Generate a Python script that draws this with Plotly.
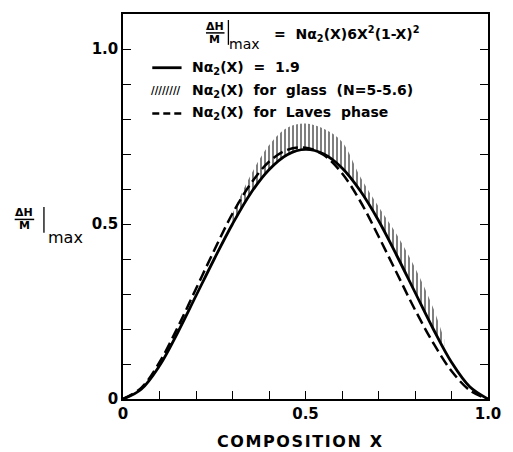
import plotly.graph_objects as go

# ---- data ----
x_vals = [0.00, 0.05, 0.10, 0.15, 0.20, 0.25, 0.30, 0.35, 0.40, 0.45, 0.50,
          0.55, 0.60, 0.65, 0.70, 0.75, 0.80, 0.85, 0.90, 0.95, 1.00]
solid_19 = [0.0, 0.028, 0.095, 0.19, 0.295, 0.40, 0.50, 0.588, 0.655, 0.698, 0.713,
            0.700, 0.660, 0.595, 0.51, 0.41, 0.305, 0.20, 0.105, 0.035, 0.0]
laves = [0.0, 0.032, 0.105, 0.205, 0.315, 0.425, 0.53, 0.615, 0.678, 0.712, 0.718,
         0.697, 0.645, 0.565, 0.465, 0.36, 0.255, 0.16, 0.08, 0.025, 0.0]

glass_x = [0.30, 0.35, 0.40, 0.45, 0.50, 0.55, 0.60, 0.65, 0.70, 0.75, 0.80, 0.85, 0.88]
glass_lower = [0.50, 0.588, 0.655, 0.698, 0.713, 0.700, 0.660, 0.595, 0.51, 0.41, 0.305, 0.20, 0.15]
glass_upper = [0.53, 0.64, 0.725, 0.775, 0.787, 0.772, 0.735, 0.635, 0.55, 0.47, 0.375, 0.26, 0.17]

tick_vals = [0.0, 0.5, 1.0]
tick_text = ["0", "0.5", "1.0"]
minor_step = 0.1

FONT = "DejaVu Sans"
W, H = 513, 452
L, R, T, B = 123, 16, 12, 53
PW, PH = W - L - R, H - T - B


def px(x):
    return (x - L) / PW


def py(y):
    return (H - B - y) / PH


fig = go.Figure()

# glass band (hatched)
fig.add_trace(go.Scatter(x=glass_x, y=glass_lower, mode="lines", line=dict(width=0, shape="spline"),
                         showlegend=False, hoverinfo="skip"))
fig.add_trace(go.Scatter(x=glass_x, y=glass_upper, mode="lines", line=dict(width=0, shape="spline"),
                         fill="tonexty", fillcolor="rgba(0,0,0,0)",
                         fillpattern=dict(shape="|", size=4, solidity=0.5, fgcolor="black",
                                          bgcolor="rgba(0,0,0,0)", fillmode="overlay"),
                         showlegend=False, hoverinfo="skip"))
# Laves phase (dashed)
fig.add_trace(go.Scatter(x=x_vals, y=laves, mode="lines",
                         line=dict(color="black", width=2.5, dash="11px,5px", shape="spline"),
                         showlegend=False))
# N alpha = 1.9 (solid)
fig.add_trace(go.Scatter(x=x_vals, y=solid_19, mode="lines",
                         line=dict(color="black", width=2.8, shape="spline"),
                         showlegend=False))

ann = []


def text(t, x, y, size, bold=True, xanchor="center", yanchor="middle"):
    ann.append(dict(text=t, x=px(x), y=py(y), xref="paper", yref="paper", showarrow=False,
                    xanchor=xanchor, yanchor=yanchor,
                    font=dict(family=FONT, size=size, color="black",
                              weight="bold" if bold else "normal")))


shapes = []


def seg(x0, y0, x1, y1, w=1.5, dash="solid"):
    shapes.append(dict(type="line", xref="paper", yref="paper", x0=px(x0), y0=py(y0),
                       x1=px(x1), y1=py(y1), line=dict(color="black", width=w, dash=dash)))


# y axis title
text("ΔH", 22, 212, 11)
seg(12, 218.5, 32, 218.5, 1.5)
text("M", 22, 225, 11)
seg(42, 206, 42, 232, 1.3)
text("max", 64, 237, 16, bold=False)

# x axis title
text("C\u200aO\u200aM\u200aP\u200aO\u200aS\u200aI\u200aT\u200aI\u200aO\u200aN\u200a \u200aX", 304, 442, 16)

# legend header
text("ΔH", 217, 25, 11)
seg(208, 31, 227, 31, 1.5)
text("M", 217, 38, 11)
seg(231, 18, 231, 43, 1.3)
text("max", 247, 42, 14, bold=False)
text("=  Nα<sub>2</sub>(X)6X<sup>2</sup>(1-X)<sup>2</sup>", 276, 32, 14, xanchor="left")

# legend rows
seg(153, 66, 183, 66, 2.8)
text("Nα<sub>2</sub>(X)  =  1.9", 192, 66, 14, xanchor="left")
text("////////", 167, 89, 10, bold=True)
text("Nα<sub>2</sub>(X)  for  glass  (N=5-5.6)", 192, 89, 14, xanchor="left")
seg(153, 112, 186, 112, 2.5, dash="7px,4px")
text("Nα<sub>2</sub>(X)  for  Laves  phase", 192, 112, 14, xanchor="left")

axis_common = dict(tickvals=tick_vals, ticktext=tick_text, ticks="inside",
                   ticklen=8, tickwidth=1.2, tickcolor="black", showline=True, linecolor="black",
                   linewidth=1.5, showgrid=False, zeroline=False,
                   minor=dict(dtick=minor_step, tick0=0, ticks="inside", ticklen=8, tickwidth=1.2,
                              tickcolor="black", showgrid=False),
                   tickfont=dict(family=FONT, size=15, color="black", weight="bold"))

fig.update_layout(
    width=W, height=H,
    margin=dict(l=L, r=R, t=T, b=B),
    paper_bgcolor="white", plot_bgcolor="white",
    annotations=ann, shapes=shapes,
    xaxis=dict(range=[0, 1], mirror=True, **axis_common),
    yaxis=dict(range=[0, 1.1], mirror="ticks", **axis_common),
    showlegend=False,
)

fig.write_html("out.html")
